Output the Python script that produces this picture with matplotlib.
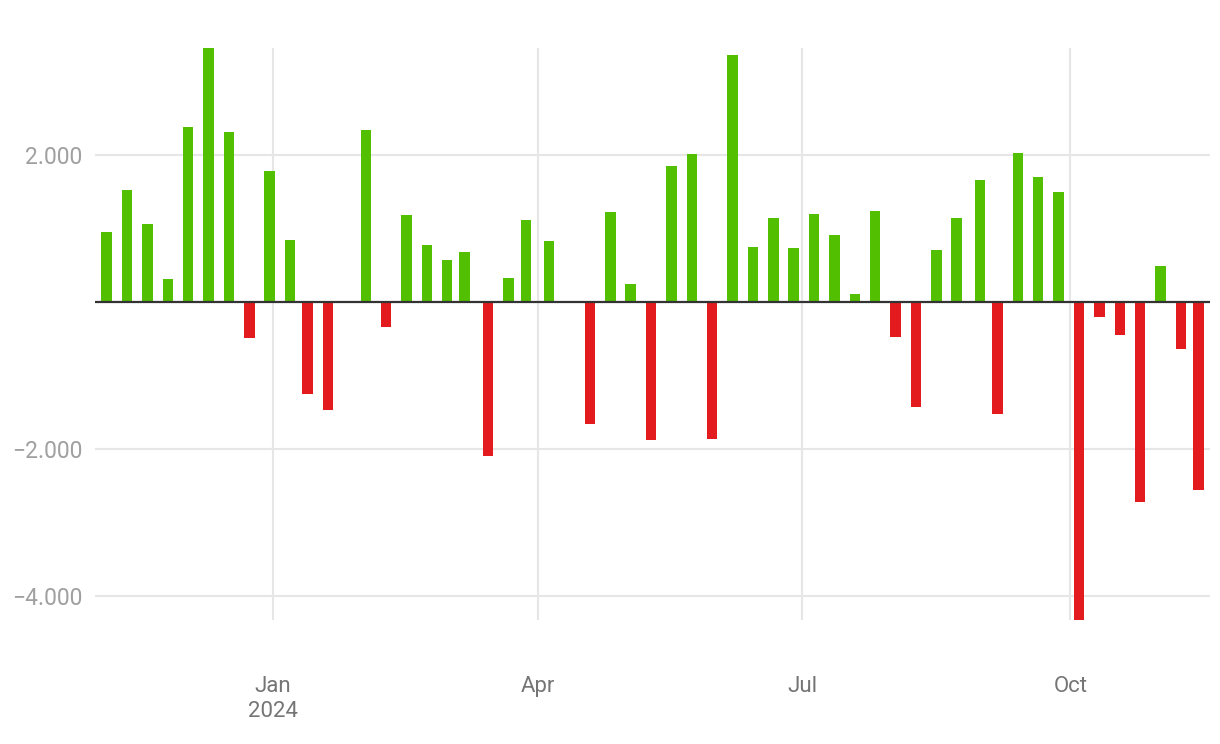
import numpy as np
import pandas as pd
import matplotlib
matplotlib.use("Agg")
import matplotlib.pyplot as plt
from matplotlib.ticker import FuncFormatter

plt.rcParams['font.family'] = ['Roboto', 'DejaVu Sans']

# weekly net values
dates = [
    "2023-11-05", "2023-11-12", "2023-11-19", "2023-11-26", "2023-12-03",
    "2023-12-10", "2023-12-17", "2023-12-24", "2023-12-31", "2024-01-07",
    "2024-01-13", "2024-01-20", "2024-02-02", "2024-02-09", "2024-02-16",
    "2024-02-23", "2024-03-01", "2024-03-07", "2024-03-15", "2024-03-22",
    "2024-03-28", "2024-04-05", "2024-04-19", "2024-04-26", "2024-05-03",
    "2024-05-10", "2024-05-17", "2024-05-24", "2024-05-31", "2024-06-07",
    "2024-06-14", "2024-06-21", "2024-06-28", "2024-07-05", "2024-07-12",
    "2024-07-19", "2024-07-26", "2024-08-02", "2024-08-09", "2024-08-16",
    "2024-08-23", "2024-08-31", "2024-09-06", "2024-09-13", "2024-09-20",
    "2024-09-27", "2024-10-04", "2024-10-11", "2024-10-18", "2024-10-25",
    "2024-11-01", "2024-11-08", "2024-11-14",
]
values = [
    950, 1520, 1060, 310, 2380,
    3450, 2310, -500, 1780, 840,
    -1260, -1470, 2340, -340, 1180,
    770, 570, 680, -2100, 320,
    1110, 825, -1660, 1220, 240,
    -1880, 1850, 2010, -1870, 3360,
    740, 1140, 730, 1190, 910,
    105, 1230, -480, -1430, 700,
    1140, 1660, -1530, 2020, 1700,
    1490, -4330, -210, -450, -2720,
    490, -640, -2560,
]

x_start, x_end = "2023-11-01", "2024-11-18"
tick_dates = ["2024-01-01", "2024-04-01", "2024-07-01", "2024-10-01"]
tick_labels = ["Jan\n2024", "Apr", "Jul", "Oct"]
y_ticks = [-4000, -2000, 2000]

GREEN = "#52c000"
RED = "#e31b1e"

d = pd.to_datetime(dates)
v = np.array(values)
colors = [GREEN if val >= 0 else RED for val in v]

fig = plt.figure(figsize=(12.2, 7.44), dpi=100)
ax = fig.add_axes([95 / 1220, 1 - 620 / 744, 1115 / 1220, 572 / 744])

ax.bar(d, v, width=3.6, color=colors, zorder=2)
ax.axhline(0, color="#333333", lw=1.6, zorder=3)

ax.set_xlim(pd.Timestamp(x_start), pd.Timestamp(x_end))
ax.set_ylim(v.min(), v.max())

ax.set_xticks(pd.to_datetime(tick_dates))
ax.set_xticklabels(tick_labels, fontsize=16, color="#757575", linespacing=1.25)
ax.set_yticks(y_ticks)
ax.yaxis.set_major_formatter(FuncFormatter(
    lambda val, pos: f"{val:,.0f}".replace(",", ".").replace("-", "\u2212")))
ax.tick_params(axis="y", labelsize=16.5, labelcolor="#a0a0a0", length=0, pad=9)
ax.tick_params(axis="x", length=0, pad=40)

ax.grid(True, color="#e6e6e6", lw=1.5, zorder=0)
for s in ax.spines.values():
    s.set_visible(False)

fig.savefig("out.png", dpi=100, facecolor="white")
